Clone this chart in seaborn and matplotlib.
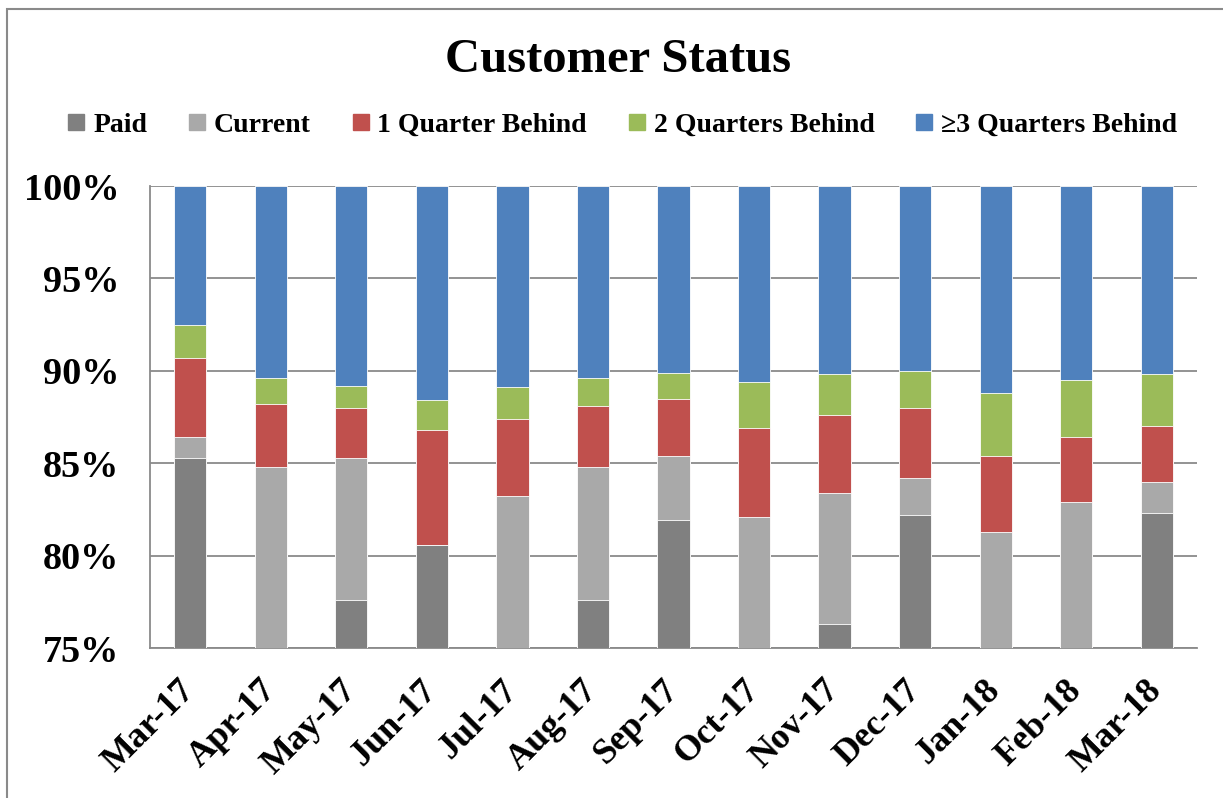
import numpy as np
import pandas as pd
import seaborn as sns
import matplotlib.pyplot as plt
from matplotlib.lines import Line2D
from matplotlib.patches import Rectangle

# Dados (percentuais por mes)
months = ['Mar-17', 'Apr-17', 'May-17', 'Jun-17', 'Jul-17', 'Aug-17', 'Sep-17',
          'Oct-17', 'Nov-17', 'Dec-17', 'Jan-18', 'Feb-18', 'Mar-18']
paid = [85.3, 0.0, 77.6, 80.6, 0.0, 77.6, 81.9, 0.0, 76.3, 82.2, 0.0, 0.0, 82.3]
current = [1.1, 84.8, 7.7, 0.0, 83.2, 7.2, 3.5, 82.1, 7.1, 2.0, 81.3, 82.9, 1.7]
q1_behind = [4.3, 3.4, 2.7, 6.2, 4.2, 3.3, 3.1, 4.8, 4.2, 3.8, 4.1, 3.5, 3.0]
q2_behind = [1.8, 1.4, 1.2, 1.6, 1.7, 1.5, 1.4, 2.5, 2.2, 2.0, 3.4, 3.1, 2.8]
q3_behind = [7.5, 10.4, 10.8, 11.6, 10.9, 10.4, 10.1, 10.6, 10.2, 10.0, 11.2, 10.5, 10.2]

series = ['Paid', 'Current', '1 Quarter Behind', '2 Quarters Behind', '\u22653 Quarters Behind']
colors = ['#808080', '#A9A9A9', '#C0504D', '#9BBB59', '#4F81BD']

df = pd.DataFrame({'mes': months, 'Paid': paid, 'Current': current,
                   '1 Quarter Behind': q1_behind, '2 Quarters Behind': q2_behind,
                   '\u22653 Quarters Behind': q3_behind})
cum = df[series].cumsum(axis=1)

sns.set_style('white')
plt.rcParams['font.family'] = ['Liberation Serif', 'DejaVu Serif']
plt.rcParams['font.weight'] = 'bold'
plt.rcParams['text.color'] = 'black'

fig = plt.figure(figsize=(12.23, 7.98), dpi=100)
ax = fig.add_axes([150 / 1223, 1 - 648 / 798, 1047 / 1223, 462 / 798])

# Barras empilhadas: desenha da maior soma acumulada para a menor
for s, c in zip(series[::-1], colors[::-1]):
    sns.barplot(x=df['mes'], y=cum[s], color=c, width=0.4, ax=ax,
                edgecolor='white', linewidth=0.6, saturation=1, zorder=3)

ax.set_ylim(75, 100)
ax.set_xlim(-0.5, 12.5)
ax.set_yticks(np.arange(75, 101, 5))
ax.set_yticklabels([f'{v}%' for v in range(75, 101, 5)], fontsize=27.5, fontweight='bold')
ax.yaxis.grid(True, color='#8a8a8a', linewidth=1.3, zorder=0)
ax.set_axisbelow(True)
ax.set_xlabel('')
ax.set_ylabel('')

ax.set_xticks(np.arange(13))
ax.set_xticklabels(months, rotation=45, ha='right', va='center', rotation_mode='anchor',
                   fontsize=26, fontweight='bold')
ax.tick_params(axis='x', which='major', length=0, pad=27, labelcolor='black')
ax.set_xticks(np.arange(-0.5, 13, 1), minor=True)
ax.tick_params(axis='x', which='minor', length=8, width=1.3, color='#8a8a8a', direction='out')
ax.tick_params(axis='y', length=8, width=1.3, color='#8a8a8a', direction='out', pad=14,
               labelcolor='black')

for side in ['top', 'right']:
    ax.spines[side].set_visible(False)
for side in ['left', 'bottom']:
    ax.spines[side].set_color('#8a8a8a')
    ax.spines[side].set_linewidth(1.3)

# Titulo e legenda
fig.text(0.505, 1 - 60 / 798, 'Customer Status', ha='center', va='center',
         fontsize=35, fontweight='bold')
handles = [Line2D([], [], marker='s', linestyle='', markersize=11, color=c) for c in colors]
fig.legend(handles, series, loc='center', bbox_to_anchor=(0.508, 1 - 125 / 798), ncol=5,
           frameon=False, prop={'size': 20, 'weight': 'bold'}, handletextpad=0.2,
           columnspacing=1.4, handlelength=0.8)

# Moldura externa
fig.add_artist(Rectangle((7 / 1223, -0.1), 1.2, 1.1 - 9 / 798, transform=fig.transFigure,
                         fill=False, edgecolor='#8a8a8a', linewidth=1.5))

plt.savefig('out.png', dpi=100)
